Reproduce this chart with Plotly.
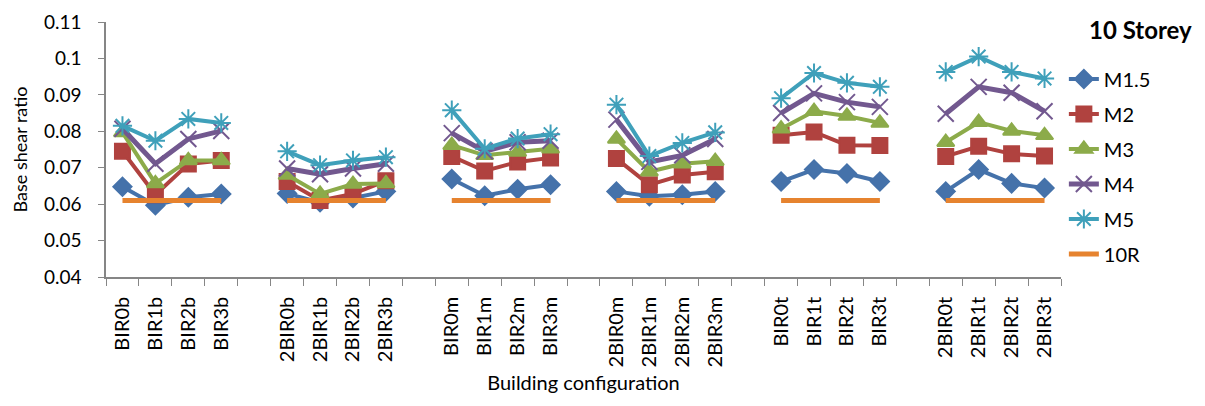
import plotly.graph_objects as go

# Building configurations, 6 groups of 4
groups = [
    ["BIR0b", "BIR1b", "BIR2b", "BIR3b"],
    ["2BIR0b", "2BIR1b", "2BIR2b", "2BIR3b"],
    ["BIR0m", "BIR1m", "BIR2m", "BIR3m"],
    ["2BIR0m", "2BIR1m", "2BIR2m", "2BIR3m"],
    ["BIR0t", "BIR1t", "BIR2t", "BIR3t"],
    ["2BIR0t", "2BIR1t", "2BIR2t", "2BIR3t"],
]

# base shear ratio, per series, in group order
m15 = [0.0648, 0.0597, 0.0619, 0.0628,
       0.0629, 0.0605, 0.0617, 0.0635,
       0.0669, 0.0623, 0.0641, 0.0653,
       0.0635, 0.0622, 0.0626, 0.0635,
       0.0662, 0.0695, 0.0684, 0.0662,
       0.0635, 0.0695, 0.0657, 0.0644]
m2 = [0.0745, 0.0626, 0.0710, 0.0720,
      0.0662, 0.0610, 0.0628, 0.0664,
      0.0731, 0.0691, 0.0716, 0.0727,
      0.0725, 0.0653, 0.0680, 0.0689,
      0.0789, 0.0798, 0.0762, 0.0761,
      0.0731, 0.0759, 0.0738, 0.0732]
m3 = [0.0797, 0.0657, 0.0720, 0.0720,
      0.0680, 0.0628, 0.0655, 0.0657,
      0.0762, 0.0734, 0.0743, 0.0752,
      0.0779, 0.0689, 0.0711, 0.0718,
      0.0807, 0.0855, 0.0842, 0.0823,
      0.0770, 0.0825, 0.0801, 0.0789]
m4 = [0.0807, 0.0711, 0.0779, 0.0801,
      0.0698, 0.0682, 0.0698, 0.0711,
      0.0795, 0.0745, 0.0770, 0.0774,
      0.0832, 0.0716, 0.0734, 0.0779,
      0.0850, 0.0904, 0.0880, 0.0867,
      0.0848, 0.0922, 0.0906, 0.0855]
m5 = [0.0815, 0.0774, 0.0834, 0.0823,
      0.0745, 0.0707, 0.0720, 0.0729,
      0.0858, 0.0752, 0.0780, 0.0792,
      0.0873, 0.0732, 0.0768, 0.0797,
      0.0891, 0.0960, 0.0933, 0.0922,
      0.0963, 0.1005, 0.0963, 0.0945]
r10 = [0.061] * 24

# slot positions: 4 categories per group, one empty slot between groups
xpos = []
labels = []
slot = 0
for g in groups:
    for lab in g:
        xpos.append(slot)
        labels.append(lab)
        slot += 1
    slot += 1
nslots = slot - 1  # no gap after the last group


def with_gaps(vals):
    # None after each group so lines break between groups
    xs, ys = [], []
    k = 0
    for g in groups:
        for _ in g:
            xs.append(xpos[k])
            ys.append(vals[k])
            k += 1
        xs.append(xpos[k - 1] + 1)
        ys.append(None)
    return xs, ys


font = "Lato, 'Open Sans', sans-serif"
series = [
    ("M1.5", m15, "#4572AA", "diamond", 14, 4),
    ("M2", m2, "#B0423F", "square", 15, 4),
    ("M3", m3, "#8CAB4A", "triangle-up", 15, 4),
    ("M4", m4, "#72588F", "x-thin-open", 16, 5),
    ("M5", m5, "#3FA0BA", "asterisk-open", 16, 4),
]

fig = go.Figure()
for name, vals, col, sym, sz, lw in series:
    xs, ys = with_gaps(vals)
    fig.add_trace(go.Scatter(
        x=xs, y=ys, name=name, mode="lines+markers",
        line=dict(color=col, width=lw),
        marker=dict(symbol=sym, size=sz, color=col, line=dict(color=col, width=2)),
        legendgroup=name,
    ))
xs, ys = with_gaps(r10)
fig.add_trace(go.Scatter(
    x=xs, y=ys, name="10R", mode="lines",
    line=dict(color="#E6832F", width=5), legendgroup="10R",
))

# the page body adds an 8px offset, so margins are shifted to compensate
fig.update_layout(
    width=1205, height=406,
    margin=dict(l=98, r=152, t=14, b=137, autoexpand=False),
    paper_bgcolor="white", plot_bgcolor="white",
    font=dict(family=font, size=18, color="#000000"),
    legend=dict(x=1.003, y=0.853, xanchor="left", yanchor="top",
                font=dict(size=20), tracegroupgap=6, bgcolor="rgba(0,0,0,0)"),
    annotations=[dict(text="<b>10 Storey</b>", x=1.083, y=0.969, xref="paper", yref="paper",
                      showarrow=False, font=dict(size=24), xanchor="center", yanchor="middle")],
)
fig.update_xaxes(
    range=[-0.5, nslots - 0.5], tickvals=xpos, ticktext=labels,
    ticks="", ticklen=0, showline=True, linecolor="#868686", linewidth=1.5,
    showgrid=False, zeroline=False,
    minor=dict(ticks="outside", ticklen=7, tickcolor="#868686", tick0=-0.5, dtick=1,
               showgrid=False),
    tickangle=-90, tickfont=dict(size=20), automargin=False, ticklabelstandoff=10,
    title=dict(text="Building configuration", font=dict(size=20), standoff=10),
)
fig.update_yaxes(
    range=[0.04, 0.11], dtick=0.01, ticks="outside", ticklen=6,
    tickcolor="#868686", showline=True, linecolor="#868686", linewidth=1.5,
    showgrid=False, zeroline=False, tickfont=dict(size=19), automargin=False,
    ticklabelstandoff=13, ticklabeloverflow="allow",
    title=dict(text="Base shear ratio", font=dict(size=18), standoff=12),
)

fig.write_html("out.html")
